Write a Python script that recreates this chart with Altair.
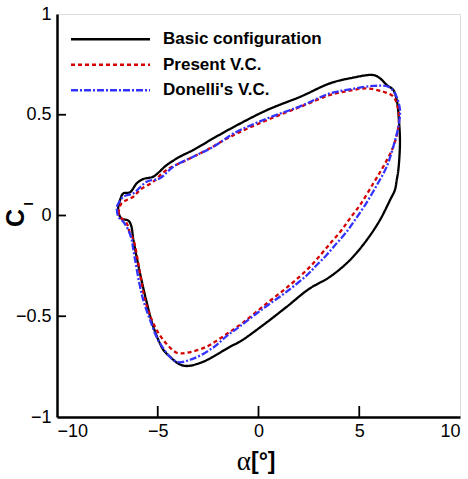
import altair as alt
import pandas as pd

series_names = ["Basic configuration", "Present V.C.", "Donelli's V.C."]
series_colors = ["#000000", "#d40000", "#3333ff"]
series_dashes = [[1, 0], [4, 3], [7, 2, 2, 2]]

basic_x = [-6.96, -6.87, -6.71, -6.38, -6.04, -5.72, -5.22, -4.56, -3.9, -3.24, -2.24, -1.22,
           0.44, 2.09, 3.55, 4.54, 5.70, 6.03, 6.36, 6.69, 6.86, 6.97, 7.02, 6.94, 6.86, 6.77,
           6.53, 6.03, 5.37, 4.54, 3.55, 2.5, 1.40, 0.24, -0.92, -1.41, -2.24, -2.8, -3.56,
           -3.98, -4.4, -4.72, -5.22, -5.55, -5.88, -6.21, -6.32, -6.46, -6.8, -6.96, -6.96]
basic_y = [0.044, 0.077, 0.11, 0.115, 0.16, 0.181, 0.193, 0.25, 0.292, 0.325, 0.383, 0.44,
           0.524, 0.59, 0.656, 0.681, 0.697, 0.681, 0.648, 0.623, 0.573, 0.474, 0.358, 0.226,
           0.176, 0.127, 0.077, -0.022, -0.122, -0.221, -0.304, -0.365, -0.453, -0.543, -0.626,
           -0.651, -0.70, -0.728, -0.747, -0.735, -0.70, -0.667, -0.552, -0.43, -0.287, -0.12,
           -0.05, -0.025, -0.015, 0.02, 0.044]

present_x = [-6.96, -6.8, -6.54, -6.21, -5.88, -5.22, -4.56, -3.57, -2.57, -1.22, 0.44, 2.09,
             3.55, 4.54, 5.37, 6.19, 6.69, 6.94, 6.94, 6.69, 6.19, 5.70, 5.04, 4.54, 4.13, 3.63,
             3.14, 2.5, 1.56, 0.41, -0.75, -1.41, -1.91, -2.57, -3.56, -4.06, -4.72, -5.22,
             -5.63, -5.88, -6.21, -6.38, -6.54, -6.87, -6.96]
present_y = [0.011, 0.06, 0.077, 0.093, 0.127, 0.168, 0.226, 0.275, 0.325, 0.40, 0.474, 0.54,
             0.598, 0.62, 0.631, 0.614, 0.59, 0.524, 0.441, 0.342, 0.242, 0.16, 0.052, -0.014,
             -0.072, -0.13, -0.188, -0.26, -0.345, -0.436, -0.53, -0.577, -0.61, -0.651, -0.681,
             -0.681, -0.618, -0.535, -0.419, -0.287, -0.12, -0.088, -0.039, -0.006, 0.011]

donelli_x = [-7.04, -6.71, -6.21, -5.55, -4.89, -4.23, -3.24, -2.24, -1.22, 0.44, 2.09, 3.55,
             4.54, 5.70, 6.44, 6.77, 7.02, 6.94, 6.69, 6.36, 5.87, 5.29, 4.79, 4.38, 3.88, 3.38,
             2.89, 2.39, 1.40, 0.24, -0.92, -1.6, -2.24, -3.24, -4.06, -4.89, -5.38, -5.72,
             -5.88, -6.21, -6.29, -6.46, -6.71, -6.96, -7.04]
donelli_y = [0.044, 0.093, 0.11, 0.168, 0.185, 0.242, 0.292, 0.341, 0.408, 0.482, 0.543, 0.606,
             0.626, 0.643, 0.639, 0.606, 0.524, 0.441, 0.342, 0.242, 0.15, 0.052, -0.022, -0.08,
             -0.138, -0.196, -0.246, -0.297, -0.378, -0.461, -0.55, -0.6, -0.655, -0.71, -0.726,
             -0.634, -0.519, -0.419, -0.353, -0.171, -0.122, -0.072, -0.031, -0.006, 0.044]

x_ticks = [-10, -5, 0, 5, 10]
y_ticks = [-1, -0.5, 0, 0.5, 1]

rows = []
for name, xs, ys in [(series_names[0], basic_x, basic_y),
                     (series_names[1], present_x, present_y),
                     (series_names[2], donelli_x, donelli_y)]:
    for i, (a, b) in enumerate(zip(xs, ys)):
        rows.append({"series": name, "idx": i, "alpha": a, "cl": b})
df = pd.DataFrame(rows)

leg_df = pd.DataFrame({"series": series_names, "row": list(range(len(series_names)))})
xt_df = pd.DataFrame({"alpha": x_ticks[1:-1]})
yt_df = pd.DataFrame({"cl": y_ticks[1:-1]})

xscale = alt.Scale(domain=[-10, 10], nice=False, zero=False)
yscale = alt.Scale(domain=[-1, 1], nice=False, zero=False)
color_scale = alt.Scale(domain=series_names, range=series_colors)
dash_scale = alt.Scale(domain=series_names, range=series_dashes)

lab = dict(labelFont="Liberation Sans", labelFontSize=18, labelColor="black",
           domainColor="black", domainWidth=2.5, ticks=False, tickSize=0, grid=False, title="")

lines = alt.Chart(df).mark_line(strokeWidth=2.3, interpolate="catmull-rom").encode(
    x=alt.X("alpha:Q", scale=xscale, axis=alt.Axis(values=x_ticks, labelPadding=5, **lab)),
    y=alt.Y("cl:Q", scale=yscale, axis=alt.Axis(values=y_ticks, labelPadding=6, format="g", **lab)),
    color=alt.Color("series:N", scale=color_scale, legend=None),
    strokeDash=alt.StrokeDash("series:N", scale=dash_scale, legend=None),
    order="idx:Q",
    detail="series:N",
)

xt = alt.Chart(xt_df).mark_rule(stroke="black", strokeWidth=1.8).encode(
    x=alt.X("alpha:Q", scale=xscale), y=alt.value(392), y2=alt.value(403))
yt = alt.Chart(yt_df).mark_rule(stroke="black", strokeWidth=1.8).encode(
    y=alt.Y("cl:Q", scale=yscale), x=alt.value(0), x2=alt.value(9))

leg_rule = alt.Chart(leg_df).transform_calculate(py="25.3 + 25.5*datum.row").mark_rule(
    strokeWidth=2.5).encode(
    x=alt.value(14), x2=alt.value(93),
    y=alt.Y("py:Q", scale=None),
    color=alt.Color("series:N", scale=color_scale, legend=None),
    strokeDash=alt.StrokeDash("series:N", scale=dash_scale, legend=None),
)
leg_text = alt.Chart(leg_df).transform_calculate(py="25.3 + 25.5*datum.row").mark_text(
    align="left", baseline="middle", font="Liberation Sans", fontWeight="bold",
    fontSize=17, color="black").encode(
    x=alt.value(106), y=alt.Y("py:Q", scale=None), text="series:N")

xt_a = alt.Chart(leg_df.head(1)).mark_text(
    align="right", baseline="middle", font="Liberation Serif", fontSize=27, color="black").encode(
    x=alt.value(194), y=alt.value(448), text=alt.value("α"))
xt_b = alt.Chart(leg_df.head(1)).mark_text(
    align="left", baseline="middle", font="Liberation Sans", fontWeight="bold",
    fontSize=23, color="black").encode(
    x=alt.value(194), y=alt.value(448), text=alt.value("[°]"))
yt_c = alt.Chart(leg_df.head(1)).mark_text(
    align="center", baseline="middle", font="Liberation Sans", fontWeight="bold",
    fontSize=25, color="black", angle=270).encode(
    x=alt.value(-41), y=alt.value(204), text=alt.value("C"))
yt_l = alt.Chart(leg_df.head(1)).mark_text(
    align="center", baseline="middle", font="Liberation Sans", fontWeight="bold",
    fontSize=13, color="black", angle=270).encode(
    x=alt.value(-28), y=alt.value(190), text=alt.value("l"))

chart = alt.layer(lines, xt, yt, leg_rule, leg_text, xt_a, xt_b, yt_c, yt_l).properties(
    width=403, height=403,
    autosize=alt.AutoSizeParams(type="none"),
    padding={"left": 57, "top": 14, "right": 8, "bottom": 62},
).configure_view(stroke="black", strokeWidth=1.5).configure(background="white")

chart.save("out.html", embed_options={"renderer": "svg", "actions": False})
